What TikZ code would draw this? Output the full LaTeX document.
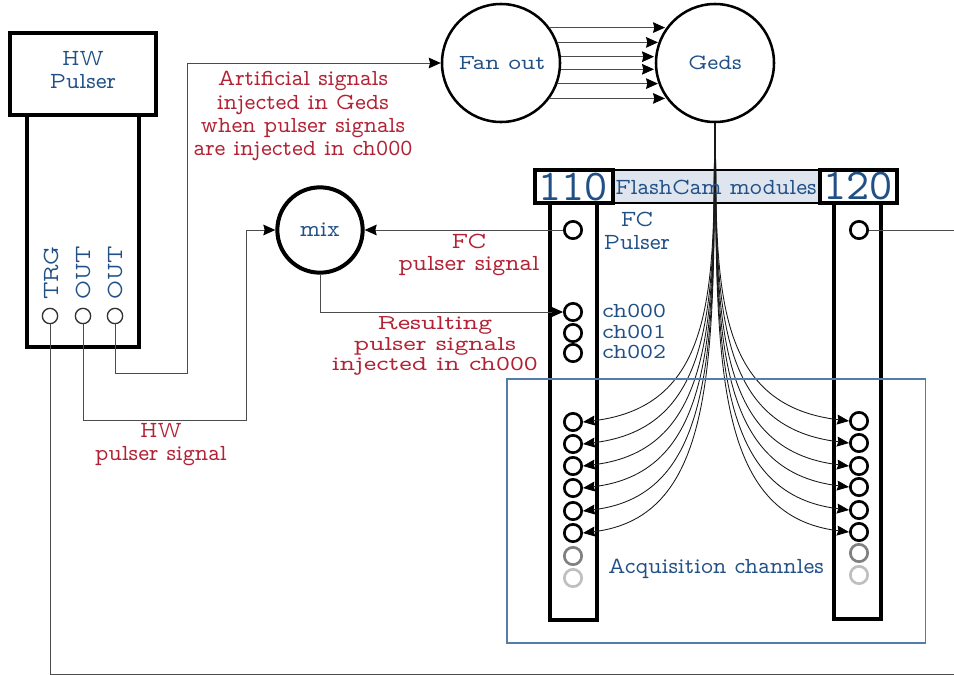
\documentclass[tikz,border=0pt]{standalone}
\usepackage{fontspec}
\setmainfont{Latin Modern Mono Prop}
\newfontfamily\stretchA[FakeStretch=1.15]{Latin Modern Mono Prop}
\newfontfamily\stretchB[FakeStretch=1.07]{Latin Modern Mono Prop}
\newfontfamily\stretchC[FakeStretch=1.25]{Latin Modern Mono Prop}
\usetikzlibrary{arrows.meta}
\definecolor{tblue}{RGB}{33,80,135}
\definecolor{tred}{RGB}{178,34,52}
\definecolor{bandc}{RGB}{222,229,238}
\definecolor{boxb}{RGB}{85,125,170}
\tikzset{
  x=0.75pt,y=-0.75pt,
  wire/.style={line width=0.75pt,black!70,-{Stealth[length=9pt,width=8pt,inset=1pt,black]}},
  plainwire/.style={line width=0.75pt,black!70},
  fib/.style={line width=0.65pt,black!90,-{Stealth[length=9pt,width=7.5pt,inset=1pt,black]}},
  bluetxt/.style={text=tblue,font=\fontsize{17.3}{17.2}\selectfont,align=center,inner sep=0pt},
  bluewide/.style={bluetxt,font=\stretchA\fontsize{16}{17.2}\selectfont},
  bluemid/.style={bluetxt,font=\stretchB\fontsize{16.4}{17.2}\selectfont},
  redtxt/.style={text=tred,font=\fontsize{17.3}{17.3}\selectfont,align=center,inner sep=0pt},
  redwide/.style={redtxt,font=\stretchC\fontsize{15.9}{15.4}\selectfont},
  redmid/.style={redtxt,font=\stretchB\fontsize{17.3}{17}\selectfont},
  big/.style={circle,draw,line width=1.9pt,inner sep=0pt,minimum size=88.5pt,fill=white},
  mixc/.style={circle,draw,line width=3pt,inner sep=0pt,minimum size=64pt,fill=white},
  frame/.style={draw,line width=2.8pt,inner sep=0pt,outer sep=0pt,anchor=north west},
  pin/.style={circle,draw,line width=2pt,inner sep=0pt,minimum size=13pt,fill=white},
  pinlo/.style={pin,draw=black!50},
  pinvl/.style={pin,draw=black!25},
  port/.style={circle,draw,line width=1pt,inner sep=0pt,minimum size=11.5pt,black!80},
}
\begin{document}
\begin{tikzpicture}
\useasboundingbox (0,0) rectangle (954,675);
% HW pulser
\node[frame,minimum width=84pt,minimum height=174pt] (hwbody) at (27,115) {};
\node[frame,line width=3pt,minimum width=109.5pt,minimum height=61.5pt,fill=white] (hw) at (10,33) {};
\node[bluetxt] (lhw) at (83,70) {HW\\Pulser};
\node[port] (trg) at (50,316) {};
\node[port] (oa) at (83,316) {};
\node[port] (ob) at (115,316) {};
\node[bluetxt,rotate=90,anchor=west] (ltrg) at (51,300) {TRG};
\node[bluetxt,rotate=90,anchor=west] (loa) at (83,300) {OUT};
\node[bluetxt,rotate=90,anchor=west] (lob) at (115,300) {OUT};
% round nodes
\node[big] (fan) at (501,63) {};
\node[bluewide] (lfan) at (502,63) {Fan out};
\node[big] (geds) at (715,63) {};
\node[bluemid] (lgeds) at (715,63) {Geds};
\node[mixc] (mix) at (320,230) {};
\node[bluetxt] (lmix) at (320,230) {mix};
% band
\node[draw,line width=0.8pt,fill=bandc,outer sep=0pt,anchor=north west,minimum width=156pt,minimum height=24.75pt,inner sep=0pt] (band) at (612,170) {};
% modules
\node[frame,minimum width=35.25pt,minimum height=312.75pt] (ma) at (550,203) {};
\node[frame,minimum width=35.25pt,minimum height=312pt] (mb) at (834,203) {};
\node[frame,fill=white,minimum width=58.5pt,minimum height=24.75pt] (ha) at (535,170) {};
\node[frame,fill=white,minimum width=57.75pt,minimum height=24.75pt] (hb) at (820,170) {};
\node[bluetxt,font=\fontsize{33}{33}\selectfont] (ta) at (573,187) {110};
\node[bluetxt,font=\fontsize{33}{33}\selectfont] (tb) at (858,186) {120};
% pins
\node[pin] (fa) at (573,230) {};
\node[pin] (c0) at (573,312) {};
\node[pin] (c1) at (573,333) {};
\node[pin] (c2) at (573,353) {};
\node[pin] (a1) at (573,422) {};
\node[pin] (a2) at (573,444) {};
\node[pin] (a3) at (573,466) {};
\node[pin] (a4) at (573,488) {};
\node[pin] (a5) at (573,511) {};
\node[pin] (a6) at (573,533) {};
\node[pinlo] (a7) at (573,556) {};
\node[pinvl] (a8) at (573,578) {};
\node[pin] (fb) at (859,230) {};
\node[pin] (b1) at (859,421) {};
\node[pin] (b2) at (859,443) {};
\node[pin] (b3) at (859,466) {};
\node[pin] (b4) at (859,487) {};
\node[pin] (b5) at (859,510) {};
\node[pin] (b6) at (859,532) {};
\node[pinlo] (b7) at (859,553) {};
\node[pinvl] (b8) at (859,575) {};
% free ends
\coordinate (ebot) at (954,674);
\coordinate (eright) at (954,230);
\coordinate (kb) at (187,373);
\coordinate (ka) at (246,420);
\coordinate (ga) at (665,0);
\coordinate (gb) at (658,0);
\coordinate (gc) at (654,0);
% connectors
\draw[plainwire] (trg.south) |- (ebot);
\draw[wire] (ob.south) |- (kb) |- (fan.west);
\draw[wire] (oa.south) |- (ka) |- (mix.west);
\draw[wire] (fa.west) -- (mix.east);
\draw[wire] (mix.south) |- (c0.west);
\draw[plainwire] (fb.east) -- (eright);
\draw[wire] (fan.36.4) -- (ga |- fan.36.4);
\draw[wire] (fan.20.9) -- (gb |- fan.20.9);
\draw[wire] (fan.6.8) -- (gc |- fan.6.8);
\draw[wire] (fan.-6.8) -- (gc |- fan.-6.8);
\draw[wire] (fan.-20.9) -- (gb |- fan.-20.9);
\draw[wire] (fan.-36.4) -- (ga |- fan.-36.4);
% fibres
\foreach \t/\h in {a1/165,a2/180,a3/195,a4/210,a5/225,a6/240}{
  \draw[fib] ([xshift=-0.4pt]geds.south) .. controls +(0,\h) and +(133,-16) .. (\t.east);
}
\foreach \t/\h in {b1/165,b2/180,b3/195,b4/210,b5/225,b6/240}{
  \draw[fib] ([xshift=0.4pt]geds.south) .. controls +(0,\h) and +(-135,-16) .. (\t.west);
}
% texts
\node[bluetxt] (lband) at (716,187) {FlashCam modules};
\node[bluetxt] (lfc) at (637,231) {FC\\Pulser};
\node[bluewide,anchor=west] (l0) at (602,311) {ch000};
\node[bluewide,anchor=west] (l1) at (602,332) {ch001};
\node[bluewide,anchor=west] (l2) at (602,352) {ch002};
\node[bluetxt] (lacq) at (716,569) {Acquisition channles};
\node[redtxt] (r1) at (303,116) {Artificial signals\\injected in Geds\\when pulser signals\\are injected in ch000};
\node[redmid] (r2) at (469,255) {FC\\pulser signal};
\node[redwide] (r3) at (435,346) {Resulting\\pulser signals\\injected in ch000};
\node[redtxt] (r4) at (161,445) {HW\\pulser signal};
% acquisition frame
\node[draw=boxb,line width=0.85pt,outer sep=0pt,anchor=north west,minimum width=314pt,minimum height=198pt,inner sep=0pt] (acq) at (507,379) {};
\end{tikzpicture}
\end{document}
